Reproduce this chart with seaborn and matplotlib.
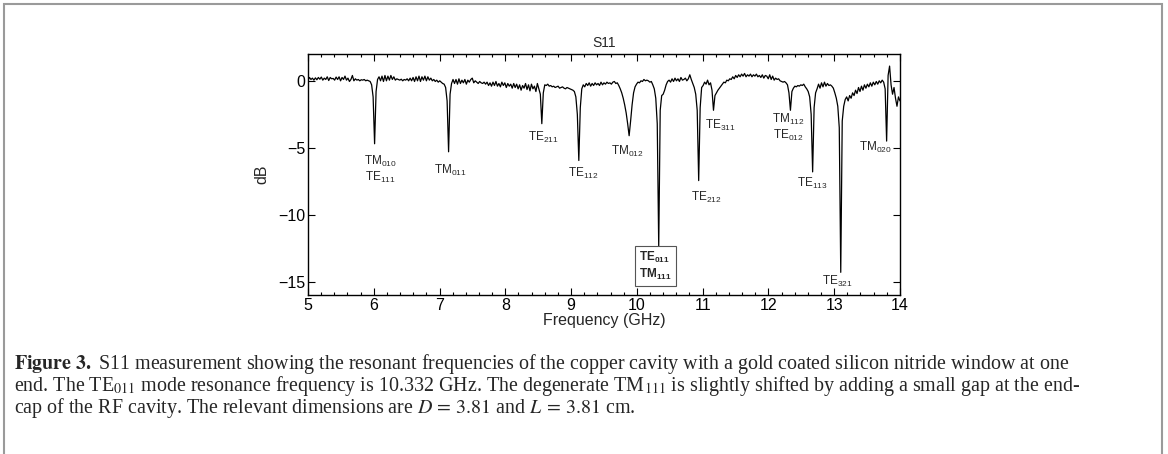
import numpy as np
import pandas as pd
import matplotlib
matplotlib.use("Agg")
import matplotlib.pyplot as plt
import seaborn as sns
from matplotlib.ticker import AutoMinorLocator, FixedLocator
from matplotlib.patches import Rectangle

# ---------------- data ----------------
freq_start, freq_stop, n_points = 5.0, 14.0, 401

s11_db = [
    0.05, 0.25, 0.10, 0.20, 0.05, 0.22, 0.08, 0.25, 0.12, 0.28, 0.05, 0.20, 0.10, 0.30, 0.02, 0.25, 0.15, 0.18, 0.05, 0.28,
    0.10, 0.30, 0.00, 0.25, 0.10, 0.35, 0.05, 0.20, -0.05, 0.10, 0.40, 0.00, 0.15, 0.05, 0.10, 0.00, 0.08, 0.05, 0.10, 0.00,
    0.05, 0.00, -0.05, -0.30, -1.20, -4.70, -0.80, 0.10, 0.30, 0.00, 0.35, -0.05, 0.40, 0.00, 0.35, 0.05, 0.40, 0.10, 0.30, 0.05,
    0.15, 0.10, 0.05, 0.12, 0.00, 0.10, 0.05, 0.15, 0.00, 0.20, 0.00, 0.25, -0.05, 0.30, 0.00, 0.35, -0.05, 0.30, 0.05, 0.35,
    0.00, 0.30, 0.05, 0.20, 0.00, 0.10, -0.05, 0.05, -0.10, 0.00, -0.10, -0.20, -0.25, -0.50, -1.50, -5.30, -1.00, -0.20, 0.10, -0.20,
    0.10, -0.25, 0.15, -0.20, 0.05, -0.15, 0.10, -0.25, 0.05, -0.10, 0.10, 0.20, -0.15, 0.00, -0.10, -0.20, -0.05, -0.15, -0.20, -0.10,
    -0.25, -0.10, -0.35, -0.15, -0.40, -0.10, -0.35, -0.05, -0.40, -0.20, -0.45, -0.10, -0.35, -0.15, -0.50, -0.20, -0.40, -0.25, -0.55, -0.20,
    -0.50, -0.25, -0.60, -0.30, -0.70, -0.35, -0.55, -0.20, -0.65, -0.30, -0.75, -0.25, -0.60, -0.40, -0.80, -0.20, -0.60, -1.00, -3.20, -0.90,
    -0.30, -0.35, -0.25, -0.40, -0.35, -0.45, -0.40, -0.50, -0.45, -0.40, -0.55, -0.50, -0.45, -0.55, -0.60, -0.50, -0.55, -0.60, -0.65, -0.70,
    -0.80, -1.20, -2.50, -5.95, -2.00, -0.60, -0.30, -0.45, -0.20, -0.35, -0.15, -0.40, -0.20, -0.35, -0.15, -0.30, -0.20, -0.35, -0.10, -0.30,
    -0.15, -0.25, -0.10, -0.20, -0.15, -0.25, -0.10, -0.05, -0.20, -0.15, -0.35, -0.60, -0.90, -1.30, -1.80, -2.40, -3.20, -4.10, -3.00, -1.80,
    -0.90, -0.45, -0.25, -0.10, -0.15, 0.00, -0.05, 0.10, 0.00, 0.05, 0.00, -0.10, -0.05, -0.30, -0.60, -1.30, -3.20, -12.40, -2.20, -1.10,
    -1.00, -0.70, -0.30, -0.05, 0.05, -0.10, 0.15, -0.05, 0.20, 0.00, 0.15, -0.05, 0.25, 0.05, 0.10, 0.20, 0.00, 0.15, 0.45, 0.10,
    -0.20, -0.50, -1.00, -2.20, -7.45, -2.00, -0.50, -0.35, -0.10, -0.25, 0.05, -0.30, -0.15, -0.70, -2.20, -1.10, -0.90, -0.70, -0.55, -0.40,
    -0.25, -0.10, -0.15, 0.05, 0.00, 0.15, 0.10, 0.30, 0.15, 0.40, 0.25, 0.45, 0.30, 0.50, 0.35, 0.55, 0.30, 0.45, 0.35, 0.50,
    0.30, 0.45, 0.35, 0.50, 0.30, 0.40, 0.25, 0.45, 0.20, 0.40, 0.35, 0.15, 0.45, 0.10, 0.35, 0.05, 0.20, 0.10, 0.15, 0.00,
    -0.05, -0.10, -0.05, -0.15, -0.30, -0.90, -2.20, -0.80, -0.55, -0.40, -0.45, -0.35, -0.40, -0.30, -0.35, -0.25, -0.45, -0.60, -0.80, -1.20,
    -2.50, -6.80, -2.00, -0.90, -0.60, -0.25, -0.55, -0.15, -0.45, -0.10, -0.40, -0.20, -0.35, -0.30, -0.40, -0.55, -0.90, -1.30, -1.90, -3.50,
    -14.30, -3.00, -1.90, -1.40, -1.20, -1.50, -1.10, -1.30, -0.90, -1.10, -0.70, -0.95, -0.50, -0.80, -0.40, -0.70, -0.30, -0.55, -0.25, -0.45,
    -0.15, -0.40, -0.10, -0.30, -0.05, -0.25, 0.00, -0.15, 0.05, -0.10, -0.60, -4.50, 0.40, 1.10, -0.30, -1.00, -0.50, -1.30, -1.90, -1.20, -1.50,
]

mode_labels = [
    "TM$_{010}$\nTE$_{111}$", "TM$_{011}$", "TE$_{211}$", "TE$_{112}$", "TM$_{012}$",
    "TE$_{212}$", "TE$_{311}$", "TM$_{112}$\nTE$_{012}$", "TE$_{113}$", "TE$_{321}$", "TM$_{020}$",
]
label_freq = [6.10, 7.17, 8.57, 9.18, 9.86, 11.05, 11.27, 12.30, 12.66, 13.05, 13.62]
label_db = [-6.6, -6.7, -4.2, -6.9, -5.3, -8.7, -3.35, -3.5, -7.7, -15.0, -5.0]

main_mode_label = "$\\mathbf{TE_{011}}$\n$\\mathbf{TM_{111}}$"
main_mode_freq, main_mode_db = 10.04, -13.85

x_ticks = [5, 6, 7, 8, 9, 10, 11, 12, 13, 14]
y_ticks = [-15, -10, -5, 0]

caption_lines = [
    r"$\mathbf{Figure\ 3.}$ S11 measurement showing the resonant frequencies of the copper cavity with a gold coated silicon nitride window at one",
    r"end. The TE$_{011}$ mode resonance frequency is 10.332 GHz. The degenerate TM$_{111}$ is slightly shifted by adding a small gap at the end-",
    r"cap of the RF cavity. The relevant dimensions are $D\,=\,3.81$ and $L\,=\,3.81$ cm.",
]

# ---------------- style ----------------
sns.set_theme(style="ticks")
plt.rcParams["font.family"] = ["Liberation Sans", "DejaVu Sans"]
plt.rcParams["mathtext.fontset"] = "custom"
plt.rcParams["mathtext.rm"] = "Liberation Sans"
plt.rcParams["mathtext.it"] = "Liberation Sans:italic"
plt.rcParams["mathtext.bf"] = "Liberation Sans:bold"

freq = np.linspace(freq_start, freq_stop, n_points)
df = pd.DataFrame({"Frequency (GHz)": freq, "dB": s11_db})

fig = plt.figure(figsize=(11.68, 4.54), dpi=100)
fig.patch.set_facecolor("white")
ax = fig.add_axes([0.2637, 0.350, 0.5068, 0.531])

sns.lineplot(data=df, x="Frequency (GHz)", y="dB", ax=ax, color="black", linewidth=0.9)

ax.set_xlim(freq_start, freq_stop)
ax.set_ylim(-16, 2)
ax.xaxis.set_major_locator(FixedLocator(x_ticks))
ax.xaxis.set_minor_locator(AutoMinorLocator(5))
ax.yaxis.set_major_locator(FixedLocator(y_ticks))
ax.tick_params(axis="both", which="both", direction="in", top=True, right=True,
               labelsize=11.5, colors="black", pad=2)
ax.tick_params(which="major", length=5, width=0.8)
ax.tick_params(which="minor", length=2.5, width=0.8)
for sp in ax.spines.values():
    sp.set_visible(True)
    sp.set_linewidth(1.0)
    sp.set_color("black")

ax.set_xlabel("Frequency (GHz)", fontsize=11.5, labelpad=0)
ax.set_ylabel("dB", fontsize=11.5, labelpad=6)
ax.set_title("S11", fontsize=10, pad=5)

for txt, fx, fy in zip(mode_labels, label_freq, label_db):
    ax.text(fx, fy, txt, fontsize=8.5, ha="center", va="center", linespacing=1.1)

ax.text(main_mode_freq, main_mode_db, main_mode_label, fontsize=8.5, ha="left", va="center",
        linespacing=1.15,
        bbox=dict(boxstyle="square,pad=0.35", facecolor="white", edgecolor="#555555", linewidth=0.8))

# caption (one multi-line text block)
fig.text(14 / 1168, 1 - 352 / 454, "\n".join(caption_lines), fontsize=14.4,
         family="Liberation Serif", math_fontfamily="stix", ha="left", va="top",
         linespacing=0.87)

# outer frame
fig.patches.append(Rectangle((4 / 1168, -0.05), (1162 - 4) / 1168, 1 - 4 / 454 + 0.05,
                             transform=fig.transFigure, fill=False, edgecolor="#9a9a9a",
                             linewidth=1.5, clip_on=False))

fig.savefig("out.png", dpi=100, facecolor="white")
